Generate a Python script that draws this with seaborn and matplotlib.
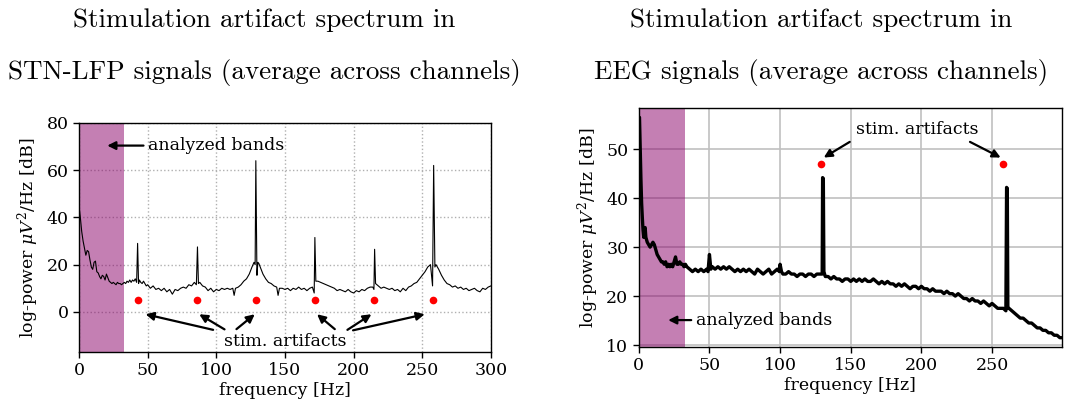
import matplotlib
matplotlib.use("Agg")
import matplotlib.pyplot as plt
import seaborn as sns
import pandas as pd

# ---------------- data ----------------
lfp_freq = [0, 1, 2, 3, 4, 5, 6, 7, 8, 9, 10, 11, 12, 13, 14, 15, 16, 17, 18, 19,
            20, 21, 22, 23, 24, 25, 26, 27, 28, 29, 30, 31, 32, 33, 34, 35, 36, 37, 38, 39,
            40, 41, 42, 42.7, 43.4, 44, 45, 46, 47, 48, 49,
            50, 52, 54, 56, 58, 60, 62, 64, 66, 68, 70, 72, 74, 76, 78, 80, 82, 84, 85.5, 86.3,
            87, 88, 90, 92, 94, 96, 98, 100, 102, 104, 106, 108, 110, 112, 113, 114, 116, 118,
            120, 122, 124, 126, 127.5, 128.3, 128.8, 129.6, 130.3, 131, 132, 134, 136, 138,
            140, 142, 144, 145, 146, 148, 150, 152, 154, 156, 158, 160, 162, 164, 166, 168,
            170, 171.3, 171.8, 172.5, 174, 176, 178, 180, 182, 184, 186, 188, 190, 192, 194,
            196, 198, 200, 202, 204, 206, 208, 210, 212, 214, 214.8, 215.3, 216, 218, 220,
            222, 224, 226, 228, 230, 232, 234, 236, 238, 240, 242, 244, 246, 248, 250, 252,
            254, 256, 257.5, 258.3, 259.2, 260, 262, 264, 266, 268, 270, 272, 274, 276, 278,
            280, 282, 284, 286, 288, 290, 292, 294, 296, 298, 300]
lfp_power = [45, 40, 34, 30, 27, 24, 26, 25.5, 22, 19, 18, 21, 21.5, 17, 16.5, 15, 14, 15.5, 15, 13.5,
             16, 14.5, 13, 12.5, 12, 12.5, 12, 11.5, 12.5, 12, 12, 11.5, 12, 12.5, 12, 13, 12.5, 13.5, 12.5, 13.5,
             13, 14, 12.5, 29, 12, 13.5, 12.5, 12, 13, 12, 11,
             11.5, 10, 11, 9.5, 10, 9, 10, 8.5, 9.5, 7.5, 9.5, 9, 10, 10.5, 10, 11.5, 11, 12.5, 11.5, 27.5,
             12, 12.5, 11, 10.5, 9, 10, 8.5, 9.5, 9, 10, 9.5, 10, 9.5, 10, 7, 10, 10.5, 11.5,
             13, 14, 16, 19, 21, 20, 64, 15.5, 21, 20.5, 19, 16, 14, 12.5,
             12, 11, 10.5, 7, 10, 10, 9.5, 10, 9, 10, 9.5, 10.5, 9.5, 10, 9, 10,
             10.5, 8, 31.5, 13, 13, 12.5, 12, 11.5, 11, 10.5, 10, 9, 9.5, 9, 8.5,
             9.5, 8.5, 8, 9, 8.5, 9.5, 9, 10, 10.5, 10.5, 9.5, 26.5, 12, 11, 10,
             10.5, 10, 9.5, 10, 9, 9.5, 8.5, 10, 9, 10.5, 11, 12, 12.5, 14, 15.5, 17,
             19, 20, 11, 62, 19, 20, 18, 15.5, 13.5, 12, 11.5, 10.5, 11, 10, 10.5,
             9.5, 10, 9, 9.5, 10, 9, 8.5, 10, 9.5, 10.5, 11]

eeg_freq = [0.5, 1, 1.5, 2, 2.5, 3, 3.5, 4, 4.5, 5, 6, 7, 8, 9, 10, 11, 12, 13, 14, 15,
            16, 17, 18, 19, 20, 21, 22, 23, 24, 25, 26, 27, 28, 29, 30, 31, 32, 33, 34, 36,
            38, 40, 42, 44, 46, 48, 49, 50, 51, 52, 54, 56, 58, 60, 62, 64, 66, 68, 70, 72,
            74, 76, 78, 80, 82, 84, 86, 88, 90, 92, 94, 96, 98, 99.5, 100, 101, 102, 104, 106,
            108, 110, 112, 114, 116, 118, 120, 122, 124, 126, 128, 129.8, 130.1, 130.6, 131,
            131.5, 132, 134, 136, 138, 140, 142, 144, 146, 148, 150, 152, 154, 156, 158, 160,
            162, 164, 166, 168, 170, 172, 174, 176, 178, 180, 182, 184, 186, 188, 190, 192,
            194, 196, 198, 200, 202, 204, 206, 208, 210, 212, 214, 216, 218, 220, 222, 224,
            226, 228, 230, 232, 234, 236, 238, 240, 242, 244, 246, 248, 250, 252, 254, 256,
            258, 259.8, 260.3, 260.8, 261.2, 262, 264, 266, 268, 270, 272, 274, 276, 278,
            280, 282, 284, 286, 288, 290, 292, 294, 296, 298, 300]
eeg_power = [56.5, 50, 44, 39, 36, 33.5, 32, 33.5, 34, 32, 31, 30.5, 30, 30.5, 31, 30.5, 29.5, 28.5, 28, 27.5,
             27, 27, 26.5, 27, 26, 26.5, 26, 26.5, 26, 27, 28, 26.5, 26.5, 27, 26.5, 26.5, 26, 26.5, 26, 25.5,
             25, 25.5, 25, 25.5, 25, 25.5, 25, 28.5, 25.5, 26, 25.5, 26, 25.5, 26, 25.5, 26, 25.5, 25, 25.5, 25,
             25.5, 25, 25.5, 25, 24.5, 25.5, 25, 24.5, 25, 25.5, 24.5, 25, 25.5, 25, 26.5, 25, 24.5, 24.5, 25,
             24.5, 24.5, 24, 24.5, 24.5, 24, 24.5, 24.5, 24, 24.5, 24.5, 24.5, 44.2, 44, 25,
             24.5, 24, 24, 23.5, 24, 23.5, 23.5, 23, 23.5, 23.5, 23, 23.5, 23, 23.5, 23, 23.5,
             23, 23, 23.5, 23, 22.5, 23, 22.5, 23, 22.5, 22.5, 22, 22.5, 22, 22.5, 22, 21.5,
             22, 22, 21.5, 22, 21.5, 21.5, 21, 21.5, 21, 21, 21, 20.5, 21, 20.5, 20.5, 20,
             20.5, 20, 19.5, 19.5, 19, 19.5, 19, 19, 18.5, 19, 18.5, 18, 18.5, 18, 17.5, 17.5,
             17.5, 17, 42.2, 42, 17.5, 17.5, 17, 16.5, 16, 15.5, 15.5, 15, 14.5, 14.5,
             14, 13.5, 13.5, 13, 13, 12.5, 12.5, 12, 12, 11.5, 11.5]

lfp_artifact_freq = [43, 86, 129, 172, 215, 258]
lfp_artifact_level = [5, 5, 5, 5, 5, 5]
eeg_artifact_freq = [129, 258]
eeg_artifact_level = [47, 47]

band_range = [1, 33]
eeg_band_range = [0.5, 33]

title_left = ["Stimulation artifact spectrum in", "STN-LFP signals (average across channels)"]
title_right = ["Stimulation artifact spectrum in", "EEG signals (average across channels)"]
xlabel = "frequency [Hz]"
ylabel = r"log-power $\mu V^2$/Hz [dB]"

# ---------------- style ----------------
sns.set_theme(style="ticks")
plt.rcParams["font.family"] = ["DejaVu Serif"]
plt.rcParams["mathtext.fontset"] = "dejavuserif"
plt.rcParams["xtick.direction"] = "out"
plt.rcParams["ytick.direction"] = "out"
plt.rcParams["axes.edgecolor"] = "black"
plt.rcParams["axes.linewidth"] = 1.0
plt.rcParams["text.color"] = "black"
plt.rcParams["axes.labelcolor"] = "black"
plt.rcParams["xtick.color"] = "black"
plt.rcParams["ytick.color"] = "black"

fig = plt.figure(figsize=(10.7, 4.07), dpi=100)
ax1 = fig.add_axes([0.0738, 0.135, 0.385, 0.563])
ax2 = fig.add_axes([0.597, 0.1474, 0.3955, 0.587])

band_color = "#8a0069"
fs = 12.5

# ---- left ----
df_lfp = pd.DataFrame({"f": lfp_freq, "p": lfp_power})
ax1.axvspan(band_range[0], band_range[1], color=band_color, alpha=0.5, lw=0, zorder=1)
sns.lineplot(data=df_lfp, x="f", y="p", ax=ax1, color="black", lw=0.8, zorder=3)
ax1.plot(lfp_artifact_freq, lfp_artifact_level, "o", color="#ff0000", ms=5.5, zorder=4, mec="none")
ax1.set_xlim(0, 300)
ax1.set_ylim(-17, 80)
ax1.set_xticks([0, 50, 100, 150, 200, 250, 300])
ax1.set_yticks([0, 20, 40, 60, 80])
ax1.grid(True, ls=":", color="#b0b0b0", lw=1.0)
ax1.set_axisbelow(True)
ax1.set_xlabel(xlabel, fontsize=fs, labelpad=2)
ax1.set_ylabel(ylabel, fontsize=fs, labelpad=4)
ax1.tick_params(labelsize=fs, length=4, width=1, colors="black")
for s in ax1.spines.values():
    s.set_visible(True)
ax1.annotate("", xy=(20.6, 70.4), xytext=(47, 70.4),
             arrowprops=dict(arrowstyle="-|>", lw=1.6, color="black", mutation_scale=12, shrinkA=0, shrinkB=0))
ax1.text(50, 70.4, "analyzed bands", fontsize=fs, va="center", ha="left")
ax1.text(150, -12.6, "stim. artifacts", fontsize=fs, va="center", ha="center")
arrows_l = [((97.7, -7.6), (48.5, -1.0)), ((106, -7.4), (87.6, -1.0)), ((114.7, -7.3), (128, -1.0)),
            ((186.3, -7.3), (173.4, -1.0)), ((195.5, -7.6), (213, -1.0)), ((199.6, -7.8), (251.8, -1.0))]
for tail, head in arrows_l:
    ax1.annotate("", xy=head, xytext=tail,
                 arrowprops=dict(arrowstyle="-|>", lw=1.6, color="black", mutation_scale=12, shrinkA=0, shrinkB=0))

# ---- right ----
df_eeg = pd.DataFrame({"f": eeg_freq, "p": eeg_power})
ax2.axvspan(eeg_band_range[0], eeg_band_range[1], color=band_color, alpha=0.5, lw=0, zorder=1)
sns.lineplot(data=df_eeg, x="f", y="p", ax=ax2, color="black", lw=2.4, zorder=3)
ax2.plot(eeg_artifact_freq, eeg_artifact_level, "o", color="#ff0000", ms=5.5, zorder=4, mec="none")
ax2.set_xlim(0, 299.5)
ax2.set_ylim(9.6, 58.4)
ax2.set_xticks([0, 50, 100, 150, 200, 250])
ax2.set_yticks([10, 20, 30, 40, 50])
ax2.grid(True, ls="-", color="#c0c0c0", lw=1.2)
ax2.set_axisbelow(True)
ax2.set_xlabel(xlabel, fontsize=fs, labelpad=2)
ax2.set_ylabel(ylabel, fontsize=fs, labelpad=4)
ax2.tick_params(labelsize=fs, length=4, width=1, colors="black")
ax2.annotate("", xy=(20.8, 15.1), xytext=(37.1, 15.1),
             arrowprops=dict(arrowstyle="-|>", lw=1.6, color="black", mutation_scale=12, shrinkA=0, shrinkB=0))
ax2.text(40.6, 15.1, "analyzed bands", fontsize=fs, va="center", ha="left")
ax2.text(153.6, 54, "stim. artifacts", fontsize=fs, va="center", ha="left")
for tail, head in [((149.3, 51.5), (130.9, 48.3)), ((234.4, 51.5), (256.1, 48.3))]:
    ax2.annotate("", xy=head, xytext=tail,
                 arrowprops=dict(arrowstyle="-|>", lw=1.6, color="black", mutation_scale=12, shrinkA=0, shrinkB=0))

# ---- titles ----
tfs = 19.5
fig.text(264 / 1070, 1 - 20 / 407, title_left[0], fontfamily="cmr10", fontsize=tfs, ha="center", va="center")
fig.text(264 / 1070, 1 - 73 / 407, title_left[1], fontfamily="cmr10", fontsize=tfs, ha="center", va="center")
fig.text(821 / 1070, 1 - 20 / 407, title_right[0], fontfamily="cmr10", fontsize=tfs, ha="center", va="center")
fig.text(821 / 1070, 1 - 73 / 407, title_right[1], fontfamily="cmr10", fontsize=tfs, ha="center", va="center")

fig.savefig("out.png", dpi=100)
